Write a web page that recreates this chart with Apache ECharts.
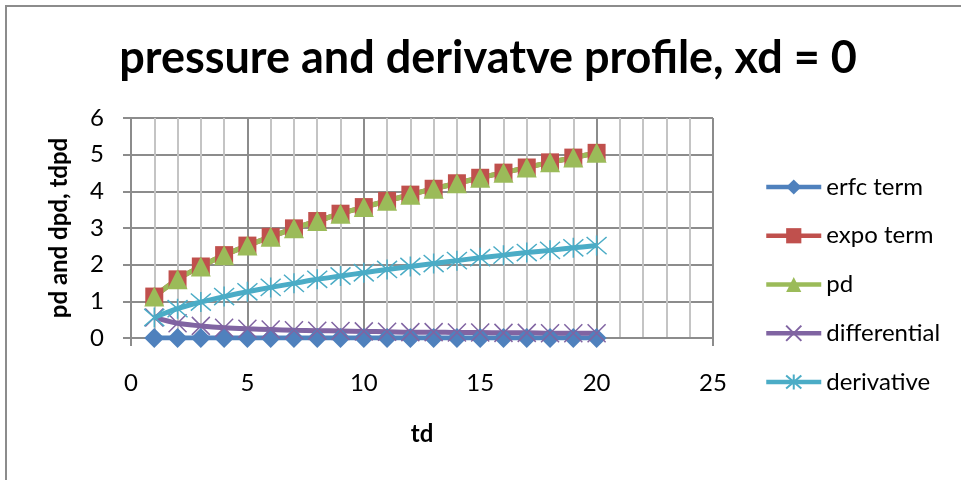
<!DOCTYPE html>
<html>
<head>
<meta charset="utf-8">
<script src="https://cdn.jsdelivr.net/npm/echarts@6/dist/echarts.min.js"></script>
<style>
html,body{margin:0;padding:0;background:#fff;}
#chart{width:961px;height:480px;}
</style>
</head>
<body>
<div id="chart"></div>
<script>
const td = [1,2,3,4,5,6,7,8,9,10,11,12,13,14,15,16,17,18,19,20];
const erfcTerm = [0,0,0,0,0,0,0,0,0,0,0,0,0,0,0,0,0,0,0,0];
const expoTerm = [1.13,1.60,1.95,2.26,2.52,2.76,2.99,3.19,3.39,3.57,3.74,3.91,4.07,4.22,4.37,4.51,4.65,4.79,4.92,5.05];
const pd = [1.13,1.60,1.95,2.26,2.52,2.76,2.99,3.19,3.39,3.57,3.74,3.91,4.07,4.22,4.37,4.51,4.65,4.79,4.92,5.05];
const differential = [0.56,0.40,0.33,0.28,0.25,0.23,0.21,0.20,0.19,0.18,0.17,0.16,0.16,0.15,0.15,0.14,0.14,0.13,0.13,0.13];
const derivative = [0.56,0.80,0.98,1.13,1.26,1.38,1.49,1.60,1.69,1.78,1.87,1.95,2.03,2.11,2.19,2.26,2.33,2.39,2.46,2.52];
const seriesNames = ['erfc term','expo term','pd','differential','derivative'];

const pairs = a => td.map((t,i)=>[t,a[i]]);
const FONT = 'Lato, "Open Sans", sans-serif';
const chart = echarts.init(document.getElementById('chart'), null, {renderer:'canvas'});

const crossPath = 'path://M0,1L10,9M10,1L0,9';
const starPath = 'path://M5,0L5,10M0.7,0.7L9.3,9.3M9.3,0.7L0.7,9.3';

function mk(name, data, color, symbol, size, extra){
  return Object.assign({
    name, type:'line', data:pairs(data), smooth:0.35,
    symbol, symbolSize:size,
    lineStyle:{color, width:5},
    itemStyle:{color},
    emphasis:{disabled:true},
    animation:false
  }, extra||{});
}

chart.setOption({
  animation:false,
  backgroundColor:'#fff',
  textStyle:{fontFamily:FONT},
  title:{
    text:'pressure and derivatve profile, xd = 0',
    left:483, top:31, textAlign:'center',
    textStyle:{fontFamily:FONT, fontWeight:'bold', fontSize:45, color:'#000'}
  },
  graphic:[{
    type:'polyline', silent:true,
    shape:{points:[[6,490],[6,6],[970,6]]},
    style:{stroke:'#8c8c8c', lineWidth:2, fill:null}
  }],
  grid:{left:131, right:248, top:118, bottom:142, containLabel:false},
  legend:{
    orient:'vertical', left:759, top:170,
    itemWidth:55, itemHeight:19, itemGap:24.75,
    data:seriesNames,
    lineStyle:{width:4.5},
    textStyle:{fontFamily:FONT, fontSize:24, lineHeight:24, color:'#000'}
  },
  xAxis:{
    type:'value', min:0, max:25, interval:5,
    name:'td', nameLocation:'middle', nameGap:84,
    nameTextStyle:{fontFamily:FONT, fontWeight:'bold', fontSize:24, color:'#000'},
    axisLine:{show:true, onZero:false, lineStyle:{color:'#8c8c8c', width:2}},
    axisTick:{show:true, length:8, lineStyle:{color:'#8c8c8c', width:2}},
    axisLabel:{margin:33, fontFamily:FONT, fontSize:24, color:'#000'},
    splitLine:{show:true, lineStyle:{color:'#8c8c8c', width:2}},
    minorTick:{show:false, splitNumber:5},
    minorSplitLine:{show:true, lineStyle:{color:'#c4c4c4', width:2}}
  },
  yAxis:{
    type:'value', min:0, max:6, interval:1,
    name:'pd and dpd, tdpd', nameLocation:'middle', nameGap:60,
    nameTextStyle:{fontFamily:FONT, fontWeight:'bold', fontSize:24, color:'#000'},
    axisLine:{show:true, lineStyle:{color:'#8c8c8c', width:2}},
    axisTick:{show:true, length:8, lineStyle:{color:'#8c8c8c', width:2}},
    axisLabel:{margin:27, fontFamily:FONT, fontSize:24, color:'#000'},
    splitLine:{show:true, lineStyle:{color:'#8c8c8c', width:2}}
  },
  series:[
    mk('erfc term', erfcTerm, '#4F81BD', 'diamond', 20),
    mk('expo term', expoTerm, '#C0504D', 'rect', 18),
    mk('pd', pd, '#9BBB59', 'triangle', 20),
    mk('differential', differential, '#8064A2', crossPath, 18,
       {itemStyle:{color:'#8064A2', borderColor:'#8064A2', borderWidth:1.5}}),
    mk('derivative', derivative, '#4BACC6', starPath, 20,
       {itemStyle:{color:'#4BACC6', borderColor:'#4BACC6', borderWidth:1.5}})
  ]
});
</script>
</body>
</html>
